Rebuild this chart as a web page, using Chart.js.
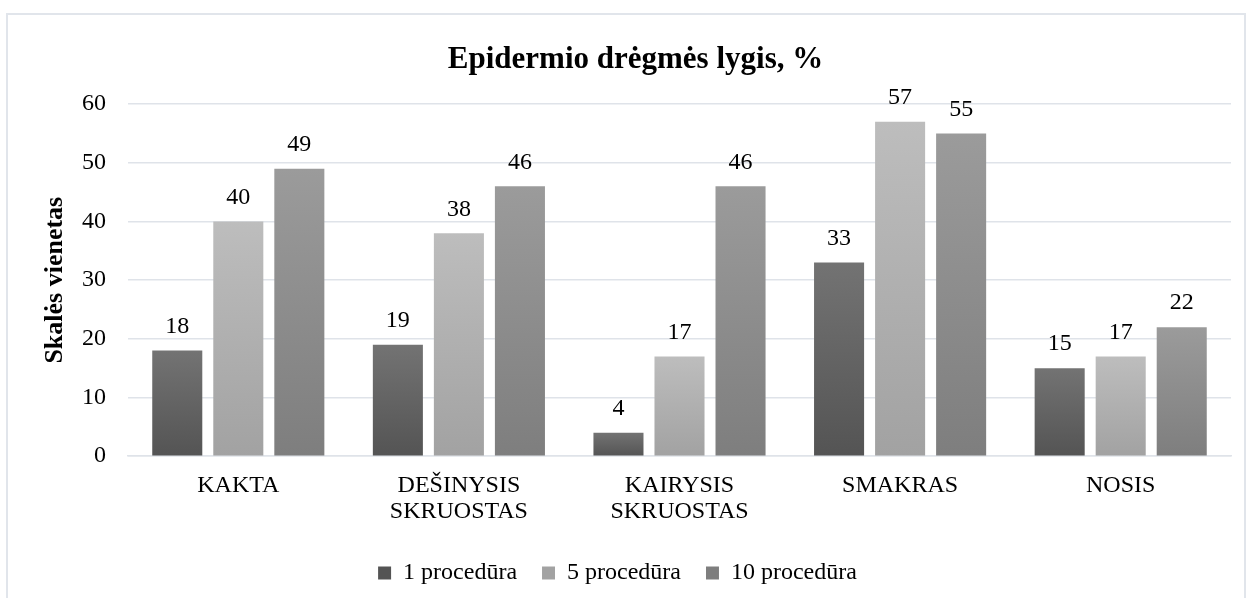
<!DOCTYPE html>
<html>
<head>
<meta charset="utf-8">
<script src="https://cdn.jsdelivr.net/npm/chart.js@4/dist/chart.umd.min.js"></script>
<style>
  html, body { margin: 0; padding: 0; background: #fff; overflow: hidden; }
  #wrap { position: absolute; left: 0; top: 0; width: 1249px; height: 598px; overflow: hidden; }
  #frame { position: absolute; left: 6px; top: 13px; width: 1240px; height: 600px;
           border: 2px solid #e1e5eb; border-bottom: none; box-sizing: border-box; }
  canvas { position: absolute; left: 0; top: 0; }
</style>
</head>
<body>
<div id="wrap">
  <div id="frame"></div>
  <canvas id="chart" width="1249" height="598"></canvas>
</div>
<script>
// Duomenys
const categories = ['KAKTA', ['DEŠINYSIS', 'SKRUOSTAS'], ['KAIRYSIS', 'SKRUOSTAS'], 'SMAKRAS', 'NOSIS'];
const seriesNames = ['1 procedūra', '5 procedūra', '10 procedūra'];
const proc1 = [18, 19, 4, 33, 15];
const proc5 = [40, 38, 17, 57, 17];
const proc10 = [49, 46, 46, 55, 22];
const yTicks = [0, 10, 20, 30, 40, 50, 60];

// Spalvos (viršus, apačia)
const colors = [
    ['#737373', '#545454'],
    ['#bdbdbd', '#a2a2a2'],
    ['#9b9b9b', '#7e7e7e']
];

const font = 'Liberation Serif';

// Gradientas kiekvienam stulpeliui
const barGradient = (pair) => (ctx) => {
    const chart = ctx.chart;
    if (!chart.chartArea || ctx.raw === undefined) return pair[1];
    const y = chart.scales.y;
    const top = y.getPixelForValue(ctx.raw);
    const bottom = y.getPixelForValue(0);
    if (!isFinite(top) || bottom - top < 1) return pair[1];
    const g = chart.ctx.createLinearGradient(0, top, 0, bottom);
    g.addColorStop(0, pair[0]);
    g.addColorStop(1, pair[1]);
    return g;
};

// Reikšmės virš stulpelių
const valueLabels = {
    id: 'valueLabels',
    afterDatasetsDraw(chart) {
        const c = chart.ctx;
        c.save();
        c.font = '24px "' + font + '"';
        c.fillStyle = '#000';
        c.textAlign = 'center';
        c.textBaseline = 'bottom';
        chart.data.datasets.forEach((ds, i) => {
            chart.getDatasetMeta(i).data.forEach((bar, j) => {
                c.fillText(ds.data[j], bar.x, bar.y - 12);
            });
        });
        c.restore();
    }
};

// Legenda šiek tiek į kairę, kaip originale
const legendShift = {
    id: 'legendShift',
    afterLayout(chart) {
        chart.legend.left -= 18;
        chart.legend.right -= 18;
    }
};

const makeDataset = (label, data, pair) => ({
    label: label,
    data: data,
    backgroundColor: barGradient(pair),
    borderWidth: 0,
    categoryPercentage: 0.83,
    barPercentage: 0.82
});

new Chart(document.getElementById('chart').getContext('2d'), {
    type: 'bar',
    data: {
        labels: categories,
        datasets: [
            makeDataset(seriesNames[0], proc1, colors[0]),
            makeDataset(seriesNames[1], proc5, colors[1]),
            makeDataset(seriesNames[2], proc10, colors[2])
        ]
    },
    options: {
        responsive: false,
        animation: false,
        devicePixelRatio: 1,
        layout: { padding: { left: 40, right: 18, top: 41, bottom: 3 } },
        scales: {
            x: {
                grid: { display: false },
                border: { color: '#dfe3e9', width: 1.5 },
                afterFit: (axis) => { axis.height += 3; },
                ticks: { color: '#000', font: { family: font, size: 24, lineHeight: 1.1 }, maxRotation: 0, autoSkip: false, padding: 8 }
            },
            y: {
                min: 0,
                max: 60,
                afterBuildTicks: (axis) => { axis.ticks = yTicks.map(v => ({ value: v })); },
                afterFit: (axis) => { axis.width = 88; },
                grid: { color: '#dfe3e9', lineWidth: 1.5, drawTicks: false },
                border: { display: false },
                ticks: { color: '#000', font: { family: font, size: 24 }, padding: 22 },
                title: {
                    display: true,
                    text: 'Skalės vienetas',
                    color: '#000',
                    font: { family: font, size: 26, weight: 'bold' },
                    padding: 0
                }
            }
        },
        plugins: {
            title: {
                display: true,
                text: 'Epidermio drėgmės lygis, %',
                color: '#000',
                font: { family: font, size: 31, weight: 'bold' },
                padding: { top: 0, bottom: 26 }
            },
            legend: {
                position: 'bottom',
                labels: {
                    color: '#000',
                    font: { family: font, size: 24 },
                    boxWidth: 13,
                    boxHeight: 13,
                    padding: 25,
                    generateLabels: (chart) => chart.data.datasets.map((ds, i) => ({
                        text: ds.label,
                        fillStyle: colors[i][1],
                        strokeStyle: colors[i][1],
                        lineWidth: 0,
                        datasetIndex: i
                    }))
                }
            },
            tooltip: { enabled: false }
        }
    },
    plugins: [valueLabels, legendShift]
});
</script>
</body>
</html>
